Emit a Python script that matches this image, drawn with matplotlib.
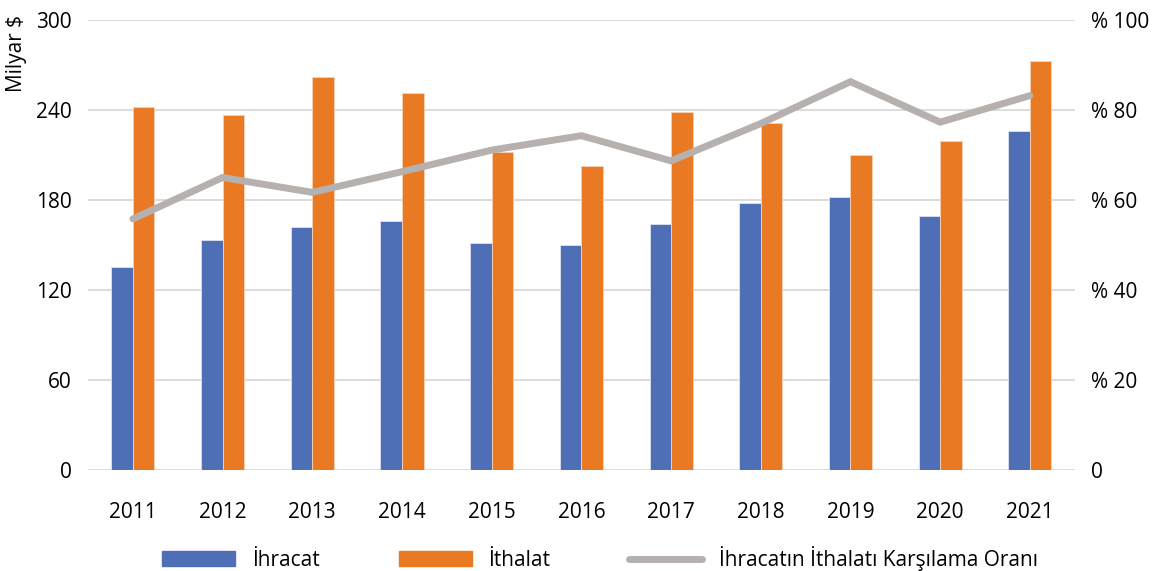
import matplotlib.pyplot as plt
import numpy as np
from matplotlib.patches import Patch
from matplotlib.lines import Line2D

plt.rcParams['font.family'] = ['Open Sans', 'DejaVu Sans']

years = ['2011', '2012', '2013', '2014', '2015', '2016', '2017', '2018', '2019', '2020', '2021']
ihracat = [135.5, 153.3, 162.2, 165.8, 151.6, 149.8, 164.0, 178.2, 181.8, 169.3, 226.2]
ithalat = [242.2, 236.9, 261.8, 251.1, 212.2, 202.9, 238.7, 231.3, 210.2, 219.1, 272.4]
oran = [55.8, 65.0, 61.7, 66.3, 71.1, 74.3, 68.7, 77.0, 86.3, 77.3, 83.2]

blue = '#4E6EB5'
orange = '#EA7924'
grey = '#B6B1AE'

fig = plt.figure(figsize=(11.54, 5.71), dpi=100)
ax = fig.add_axes([0.0763, 0.1769, 0.855, 0.788])
x = np.arange(len(years))
w = 0.24

ax.bar(x - w / 2, ihracat, w, color=blue, edgecolor='#DDE3F0', linewidth=0.6, zorder=2)
ax.bar(x + w / 2, ithalat, w, color=orange, edgecolor='#F7D2B5', linewidth=0.6, zorder=2)
ax.set_xlim(-0.5, len(years) - 0.5)
ax.set_ylim(0, 300)
ax.set_yticks([0, 60, 120, 180, 240, 300])
ax.set_xticks(x)
ax.set_xticklabels(years)
ax.grid(axis='y', color='#D9D9D9', linewidth=1.3, zorder=0)
ax.set_axisbelow(True)
for s in ax.spines.values():
    s.set_visible(False)
ax.tick_params(axis='both', length=0, labelsize=15)
ax.tick_params(axis='x', pad=23)
ax.tick_params(axis='y', pad=12)
ax.set_ylabel('Milyar $', fontsize=15)
ax.yaxis.set_label_coords(-0.062, 0.925)

ax2 = ax.twinx()
ax2.plot(x, oran, color=grey, linewidth=5, solid_capstyle='round', solid_joinstyle='miter', zorder=3)
ax2.set_ylim(0, 100)
ax2.set_yticks([0, 20, 40, 60, 80, 100])
ax2.set_yticklabels(['0', '% 20', '% 40', '% 60', '% 80', '% 100'])
for s in ax2.spines.values():
    s.set_visible(False)
ax2.tick_params(axis='y', length=0, labelsize=15, pad=12)

handles = [Patch(color=blue), Patch(color=orange),
           Line2D([0], [0], color=grey, linewidth=5, solid_capstyle='round')]
labels = ['İhracat', 'İthalat', 'İhracatın İthalatı Karşılama Oranı']
fig.legend(handles, labels, loc='center', bbox_to_anchor=(0.52, 0.022), ncol=3,
           frameon=False, fontsize=15, handlelength=3.5, handletextpad=0.8,
           columnspacing=3.8)

fig.savefig('out.png', dpi=100)
